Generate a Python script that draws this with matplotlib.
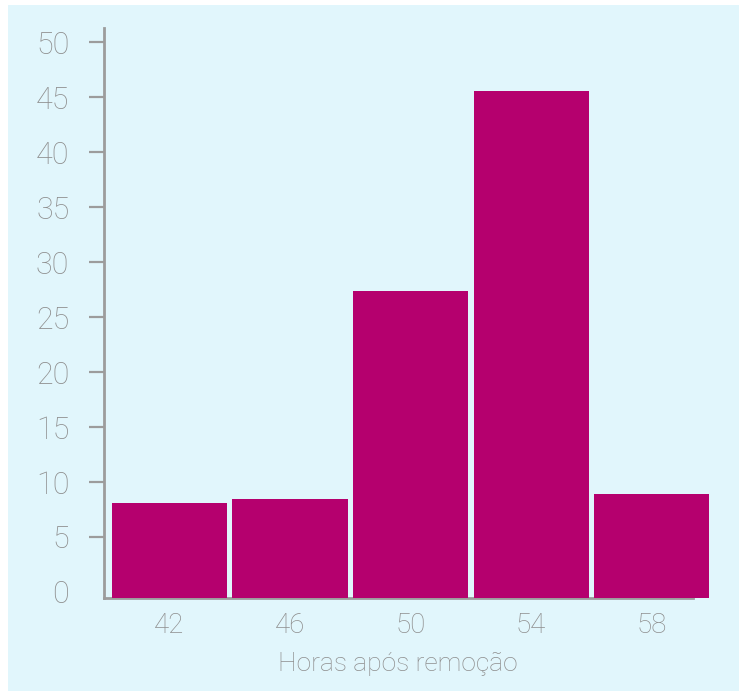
import matplotlib
matplotlib.use('Agg')
import matplotlib.pyplot as plt
from matplotlib.patches import Rectangle
import numpy as np

# data
horas = [42, 46, 50, 54, 58]
valores = [8.1, 8.45, 27.4, 45.6, 8.9]
yticks = [0, 5, 10, 15, 20, 25, 30, 35, 40, 45, 50]
xlabel = 'Horas após remoção'

G_BG = '#e1f6fc'
G_BAR = '#b5006e'
G_GREY = '#9c9c9c'
G_TXT = '#8e8e8e'

plt.rcParams['font.family'] = ['Roboto', 'DejaVu Sans']
G_W = 'light'

fig = plt.figure(figsize=(7.39, 6.91), dpi=100, facecolor='white')
# light blue panel, small white margin on top and left
fig.patches.append(Rectangle((8 / 739, 0), 1, 686 / 691, transform=fig.transFigure,
                             facecolor=G_BG, edgecolor='none', zorder=-10))

# axes box: y spine from y=28 px down to the axis line at y=598 px
ax = fig.add_axes([104 / 739, 93 / 691, (712 - 104) / 739, (598 - 28) / 691])
ax.set_facecolor('none')

base = -0.55  # bars sit on the drawn axis line, slightly below zero
x = np.array(horas)
ax.bar(x, np.array(valores) - base, bottom=base, width=3.82, color=G_BAR,
       edgecolor='none', zorder=2)

ax.set_xlim(39.83, 60.0)
ax.set_ylim(base, 51.3)

for s in ['top', 'right']:
    ax.spines[s].set_visible(False)
ax.spines['left'].set_color(G_GREY)
ax.spines['left'].set_linewidth(2)
ax.spines['bottom'].set_color(G_GREY)
ax.spines['bottom'].set_linewidth(2)
ax.spines['bottom'].set_bounds(39.83, 59.36)
ax.spines['bottom'].set_zorder(1)

ax.set_yticks(yticks)
ax.set_yticklabels([str(v) for v in yticks])
ax.set_xticks(horas)
ax.set_xticklabels([str(h) for h in horas])
ax.tick_params(axis='y', length=11, width=1.6, color=G_GREY, labelcolor=G_TXT,
               labelsize=22, pad=14)
ax.tick_params(axis='x', length=0, labelcolor=G_TXT, labelsize=20, pad=10)
# no tick mark at zero, it would sit on the axis line
ax.yaxis.get_major_ticks()[0].tick1line.set_visible(False)
for lbl in ax.get_yticklabels() + ax.get_xticklabels():
    lbl.set_fontweight(G_W)

ax.set_xlabel(xlabel, color=G_TXT, fontsize=19, fontweight=G_W)
ax.xaxis.set_label_coords((398 - 104) / (712 - 104), -0.095)

plt.savefig('out.png', dpi=100, facecolor='white')
